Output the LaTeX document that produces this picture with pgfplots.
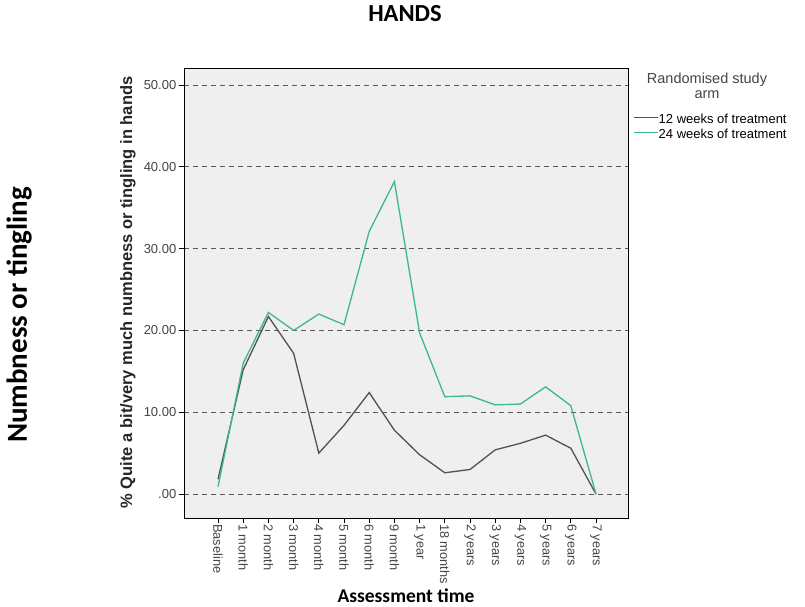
\documentclass[border=0pt]{standalone}
\usepackage{pgfplots}
\pgfplotsset{compat=1.18}
\usepackage{fontspec}
\setmainfont{Liberation Sans}
\newfontfamily\calibri{Carlito}
\definecolor{plotbg}{HTML}{EFEFEF}
\definecolor{greenline}{HTML}{3CB88A}
\definecolor{darkline}{HTML}{505060}
\definecolor{ticktext}{HTML}{454545}
\begin{document}
\begin{tikzpicture}[x=1pt,y=1pt]
\useasboundingbox[fill=white] (0,0) rectangle (805,606);
\begin{axis}[
  at={(184pt,88pt)}, anchor=south west,
  scale only axis, width=444pt, height=450pt,
  xmin=-1.35, xmax=16.27, ymin=-2.93, ymax=52.08,
  axis background/.style={fill=plotbg},
  xtick={0,...,15},
  xticklabels={Baseline,1 month,2 month,3 month,4 month,5 month,6 month,9 month,1 year,18 months,2 years,3 years,4 years,5 years,6 years,7 years},
  x tick label style={rotate=-90, anchor=west, font=\fontsize{12.8}{13}\selectfont, text=ticktext, inner sep=1pt},
  ytick={0,10,20,30,40,50},
  yticklabels={.00,10.00,20.00,30.00,40.00,50.00},
  y tick label style={font=\fontsize{13}{13}\selectfont, text=ticktext, inner sep=2.5pt},
  ymajorgrids,
  grid style={dash pattern=on 5pt off 4pt, color=black!65, line width=0.9pt},
  tick align=outside, tick pos=left, major tick length=5pt,
  tick style={black, line width=0.8pt},
  axis line style={black, line width=0.9pt},
  legend style={at={(1.0113,0.9007)}, anchor=north west, draw=none, fill=none,
    font=\fontsize{13}{14}\selectfont, legend cell align=left,
    row sep=0pt, inner sep=0pt, column sep=0pt,
    nodes={inner sep=0.5pt, text height=10pt, text depth=4pt}},
  legend image code/.code={\draw[#1, line width=1pt] (0pt,3pt) -- (24pt,3pt);},
]
\addplot[darkline, line width=1.3pt] coordinates {
(0,1.8) (1,15.2) (2,21.7) (3,17.2) (4,5.0) (5,8.4) (6,12.4) (7,7.8)
(8,4.8) (9,2.6) (10,3.0) (11,5.4) (12,6.2) (13,7.2) (14,5.6) (15,0)};
\addlegendentry{12 weeks of treatment}
\addplot[greenline, line width=1.3pt] coordinates {
(0,0.9) (1,16.0) (2,22.2) (3,20.0) (4,22.0) (5,20.7) (6,32.1) (7,38.2)
(8,19.7) (9,11.9) (10,12.0) (11,10.9) (12,11.0) (13,13.1) (14,10.8) (15,0)};
\addlegendentry{24 weeks of treatment}
\end{axis}
\node[anchor=base, inner sep=0pt, font=\fontsize{14.5}{15}\selectfont, text=ticktext] at (707,522) {Randomised study};
\node[anchor=base, inner sep=0pt, font=\fontsize{14.5}{15}\selectfont, text=ticktext] at (707,507) {arm};
\node[anchor=base, font=\calibri\bfseries\fontsize{24.5}{24.5}\selectfont] at (405,584) {HANDS};
\node[rotate=90, anchor=base, font=\calibri\bfseries\fontsize{29}{29}\selectfont] at (27,291) {Numbness or tingling};
\node[anchor=base, inner sep=0pt, font=\calibri\bfseries\fontsize{19.5}{19.5}\selectfont] at (406,4) {Assessment time};
\node[rotate=90, anchor=base, font=\bfseries\fontsize{16.5}{16.5}\selectfont, text=black!85] at (132,313.5) {\% Quite a bit/very much numbness or tingling in hands};
\end{tikzpicture}
\end{document}
